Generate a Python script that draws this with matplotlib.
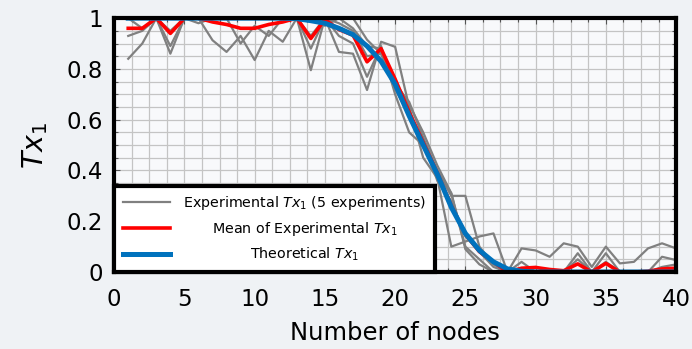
import matplotlib
matplotlib.use("Agg")
import matplotlib.pyplot as plt
from matplotlib.ticker import MultipleLocator, FixedLocator

plt.rcParams['font.family'] = ['DejaVu Sans']
plt.rcParams['mathtext.fontset'] = 'dejavusans'

nodes = list(range(1, 41))

exp_1 = [0.84, 0.90, 1.0, 0.86, 1.0, 1.0, 0.913, 0.867, 0.93, 0.835, 0.95, 0.907, 1.0, 0.795, 1.0,
         0.867, 0.86, 0.717, 0.907, 0.887, 0.65, 0.45, 0.37, 0.10, 0.12, 0.14, 0.152, 0.0, 0.093, 0.085,
         0.06, 0.113, 0.10, 0.02, 0.10, 0.034, 0.04, 0.093, 0.113, 0.093]
exp_2 = [0.93, 0.95, 1.0, 0.89, 1.0, 0.98, 1.0, 1.0, 0.90, 0.97, 0.93, 1.0, 1.0, 0.88, 1.0,
         0.93, 0.90, 0.769, 0.89, 0.70, 0.55, 0.50, 0.40, 0.30, 0.30, 0.10, 0.03, 0.0, 0.04, 0.0,
         0.0, 0.0, 0.074, 0.0, 0.074, 0.0, 0.0, 0.0, 0.06, 0.047]
exp_3 = [1.0, 0.96, 1.0, 0.95, 1.0, 1.0, 1.0, 1.0, 1.0, 1.0, 1.0, 1.0, 1.0, 0.93, 1.0,
         0.98, 0.95, 0.85, 0.86, 0.72, 0.62, 0.52, 0.36, 0.28, 0.14, 0.08, 0.02, 0.0, 0.0, 0.02,
         0.0, 0.0, 0.05, 0.0, 0.04, 0.0, 0.0, 0.0, 0.02, 0.03]
exp_4 = [1.0, 1.0, 1.0, 1.0, 1.0, 1.0, 1.0, 1.0, 1.0, 1.0, 1.0, 1.0, 1.0, 1.0, 1.0,
         1.0, 0.96, 0.89, 0.88, 0.75, 0.66, 0.55, 0.42, 0.31, 0.10, 0.05, 0.0, 0.0, 0.0, 0.0,
         0.0, 0.0, 0.0, 0.0, 0.0, 0.0, 0.0, 0.0, 0.0, 0.0]
exp_5 = [1.0, 1.0, 1.0, 1.0, 1.0, 1.0, 1.0, 1.0, 1.0, 1.0, 1.0, 1.0, 1.0, 1.0, 0.97,
         1.0, 1.0, 0.915, 0.86, 0.74, 0.67, 0.53, 0.40, 0.31, 0.09, 0.03, 0.0, 0.0, 0.0, 0.0,
         0.0, 0.0, 0.0, 0.0, 0.0, 0.0, 0.0, 0.0, 0.0, 0.0]
experiments = [exp_1, exp_2, exp_3, exp_4, exp_5]

mean_exp = [0.96, 0.96, 1.0, 0.94, 1.0, 1.0, 0.985, 0.975, 0.96, 0.96, 0.975, 0.985, 1.0, 0.92, 0.995,
            0.955, 0.933, 0.828, 0.88, 0.76, 0.63, 0.51, 0.39, 0.26, 0.15, 0.08, 0.04, 0.0, 0.015, 0.018,
            0.01, 0.005, 0.032, 0.0, 0.034, 0.0, 0.0, 0.003, 0.012, 0.015]

theoretical = [1.0, 1.0, 1.0, 1.0, 1.0, 1.0, 1.0, 1.0, 1.0, 1.0, 1.0, 1.0, 0.998, 0.99, 0.98,
               0.96, 0.935, 0.89, 0.83, 0.74, 0.615, 0.5, 0.385, 0.255, 0.152, 0.085, 0.04, 0.012, 0.003, 0.0,
               0.0, 0.0, 0.0, 0.0, 0.0, 0.0, 0.0, 0.0, 0.0, 0.0]

x_ticks = [0, 5, 10, 15, 20, 25, 30, 35, 40]
y_ticks = [0, 0.2, 0.4, 0.6, 0.8, 1]
y_tick_labels = ['0', '0.2', '0.4', '0.6', '0.8', '1']

fig = plt.figure(figsize=(6.92, 3.49), dpi=100, facecolor='#eff2f5')
ax = fig.add_axes([0.165, 0.2206, 0.812, 0.7274])
ax.set_facecolor('#f8f9fb')

for i, e in enumerate(experiments):
    ax.plot(nodes, e, color='#808080', lw=1.6, zorder=2,
            label=r'Experimental $Tx_1$ (5 experiments)' if i == 0 else None)
ax.plot(nodes, mean_exp, color='#ff0000', lw=2.6, zorder=3, label=r'Mean of Experimental $Tx_1$')
ax.plot(nodes, theoretical, color='#0072bd', lw=3.6, zorder=4, label=r'Theoretical $Tx_1$')

ax.set_xlim(0, 40)
ax.set_ylim(0, 1)
ax.xaxis.set_major_locator(FixedLocator(x_ticks))
ax.yaxis.set_major_locator(FixedLocator(y_ticks))
ax.set_yticklabels(y_tick_labels)
ax.xaxis.set_minor_locator(MultipleLocator(1.25))
ax.yaxis.set_minor_locator(MultipleLocator(0.05))
ax.grid(True, which='both', color='#c4c4c4', lw=0.9, zorder=0)
ax.set_axisbelow(True)
ax.tick_params(which='both', direction='in', top=True, right=True, color='#555555', width=0.8)
ax.tick_params(which='major', length=4, labelsize=16.5)
ax.tick_params(axis='x', which='major', pad=11.5)
ax.tick_params(axis='y', which='major', pad=8)
ax.tick_params(which='minor', length=3)
for s in ax.spines.values():
    s.set_linewidth(3)
    s.set_color('black')
    s.set_zorder(6)

ax.set_xlabel('Number of nodes', fontsize=17.5, labelpad=7)
ax.set_ylabel(r'$Tx_1$', fontsize=20.5, labelpad=12)

leg = ax.legend(loc='lower left', bbox_to_anchor=(0, 0), borderaxespad=0, fontsize=10.3,
                handlelength=3.3, handletextpad=0.6, labelspacing=0.55, borderpad=0.6,
                fancybox=False, framealpha=1, edgecolor='black')
leg.get_frame().set_linewidth(3)
leg.set_zorder(7)

# center each label within the text column
fig.canvas.draw()
r = fig.canvas.get_renderer()
widths = [t.get_window_extent(r).width for t in leg.get_texts()]
W = max(widths)
rows = leg._legend_handle_box.get_children()[0].get_children()
base_sep = 0.6 * 10.3
for row, w in zip(rows, widths):
    row.sep = base_sep + (W - w) / 2 * 72 / fig.dpi + 3.5
fig.savefig('out.png', dpi=100, facecolor=fig.get_facecolor())
